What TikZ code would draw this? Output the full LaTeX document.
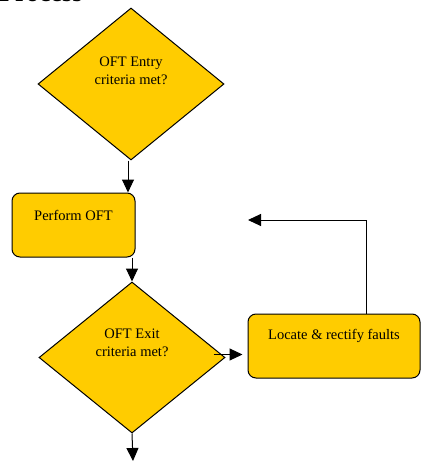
\documentclass[tikz,border=0pt]{standalone}
\usepackage{fontspec}
\setmainfont{Liberation Serif}
\usetikzlibrary{shapes.geometric,arrows.meta}
\definecolor{flowyellow}{RGB}{255,204,0}

\begin{document}
\begin{tikzpicture}[x=1pt,y=-1pt,>={Triangle[length=13pt,width=12pt]},
  decision/.style={diamond,draw,fill=flowyellow,line width=1pt,
    minimum width=186pt,minimum height=152pt,inner sep=0pt},
  process/.style={rectangle,rounded corners=8pt,draw,fill=flowyellow,
    line width=1pt,minimum width=123pt,minimum height=64pt},
  boxtext/.style={align=center,font=\fontsize{14.5}{18}\selectfont},
  flow/.style={->,line width=1pt}]

  \useasboundingbox (0,0) rectangle (421,461);

%%%%%%%%%%%%%%%%%%%%%%%%%%%%%%%%%%%%%%%%%%
  % Title (cut at the top)
  \node[anchor=base west,inner sep=0pt,font=\fontsize{26}{26}\selectfont\bfseries]
    (title) at (-1,1.5) {Process};

  % Shapes
  \node[decision,label={[boxtext,yshift=13pt]center:OFT Entry\\criteria met?}]
    (entry) at (131,84) {};
  \node[process,label={[boxtext,yshift=10pt]center:Perform OFT}]
    (perform) at (73.5,225) {};
  \node[decision,minimum height=151pt,
    label={[boxtext,yshift=14.5pt]center:OFT Exit\\criteria met?}]
    (exit) at (132,357.5) {};
  \node[process,minimum width=172pt,
    label={[boxtext,yshift=10pt]center:Locate \& rectify faults}]
    (fix) at (334,346) {};

%%%%%%%%%%%%%%%%%%%%%%%%%%%%%%%%%%%%%%%%%%
  % Connectors
  \coordinate (loopend) at (248,220);
  \coordinate (exitout) at (133,461);

  \draw[flow] ([xshift=-3pt]entry.south) -- ([xshift=-3pt]entry.south |- perform.north);
  \draw[flow] (exit.north |- perform.south) -- (exit.north);
  \draw[flow] ([xshift=-12pt,yshift=3pt]exit.east)
    -- ([xshift=-5pt,yshift=3pt]fix.west |- exit.east);
  \draw[flow] ([xshift=32pt]fix.north) |- (loopend);
  \draw[flow] (exit.south) -- (exitout);

\end{tikzpicture}
\end{document}
